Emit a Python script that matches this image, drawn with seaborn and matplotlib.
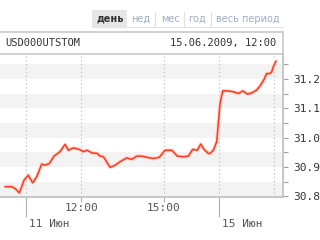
import matplotlib
matplotlib.use("Agg")
import matplotlib.pyplot as plt
import matplotlib.transforms as mtrans
import seaborn as sns
import pandas as pd
from matplotlib.patches import Rectangle
from matplotlib.lines import Line2D

# ---- data (trading-hours offset from 11 Jun 10:00; 15 Jun 10:00 = 7) ----
hours = [-0.762, -0.519, -0.399, -0.243, -0.156, -0.073, 0.083, 0.243, 0.388, 0.570,
         0.690, 0.846, 1.016, 1.234, 1.416, 1.535, 1.717, 1.935, 2.080, 2.225,
         2.385, 2.588, 2.686, 2.806, 2.868, 3.049, 3.230, 3.412, 3.655, 3.837,
         4.018, 4.200, 4.381, 4.621, 4.838, 5.045, 5.289, 5.492, 5.710, 5.891,
         6.051, 6.218, 6.341, 6.461, 6.617, 6.679, 6.799, 6.922, 6.980, 7.042,
         7.140, 7.285, 7.525, 7.706, 7.866, 8.033, 8.192, 8.374, 8.519, 8.639,
         8.736, 8.856, 8.918, 8.976, 9.074]
rate = [30.833, 30.833, 30.827, 30.812, 30.833, 30.855, 30.872, 30.846, 30.867, 30.910,
        30.906, 30.912, 30.937, 30.952, 30.977, 30.957, 30.965, 30.960, 30.952, 30.957,
        30.948, 30.946, 30.937, 30.935, 30.926, 30.899, 30.906, 30.918, 30.931, 30.926,
        30.937, 30.937, 30.933, 30.929, 30.933, 30.957, 30.957, 30.937, 30.935, 30.937,
        30.960, 30.957, 30.978, 30.960, 30.946, 30.946, 30.957, 30.986, 31.048, 31.116,
        31.159, 31.159, 31.156, 31.150, 31.159, 31.148, 31.152, 31.162, 31.179, 31.198,
        31.218, 31.218, 31.224, 31.241, 31.260]

y_ticks = [30.8, 30.9, 31.0, 31.1, 31.2]
y_labels = ["30.8", "30.9", "31.0", "31.1", "31.2"]
time_ticks = [2, 5]
time_labels = ["12:00", "15:00"]
day_ticks = [0, 7]
day_labels = ["11 Июн", "15 Июн"]
grid_x = [0, 2, 5, 7, 9]
tabs = ["день", "нед", "мес", "год", "весь период"]
ticker_name = "USD000UTSTOM"
stamp = "15.06.2009, 12:00"

df = pd.DataFrame({"t": hours, "v": rate})

sns.set_style("white")
plt.rcParams["font.family"] = ["DejaVu Sans"]
mono = "DejaVu Sans Mono"

W, H = 320, 240
fig = plt.figure(figsize=(3.2, 2.4), dpi=100)
fig.patch.set_facecolor("white")

def fx(px):
    return px / W

def fy(py):
    return 1 - py / H

border = "#c8c8c8"

# main axes
ax = fig.add_axes([0, fy(197), fx(283), fy(55) - fy(197)])
ax.set_facecolor("white")
for v in y_ticks:
    ax.axhspan(v, v + 0.05, color="#f3f3f3", lw=0, zorder=0)
for g in grid_x:
    ax.axvline(g, color="#b8b8b8", lw=0.8, ls=(0, (1, 2.5)), zorder=1)

sns.lineplot(data=df, x="t", y="v", ax=ax, color="#ffd2cb", lw=2.6, zorder=2, legend=False)
sns.lineplot(data=df, x="t", y="v", ax=ax, color="#ff3a1c", lw=1.1, zorder=3, legend=False)

ax.set_xlim(-0.944, 9.328)
ax.set_ylim(30.798, 31.281)
ax.set_xlabel("")
ax.set_ylabel("")

ax.yaxis.tick_right()
ax.set_yticks(y_ticks)
ax.set_yticklabels(y_labels, fontfamily=mono, fontsize=8, color="#333333")
ax.set_yticks([v + 0.05 for v in y_ticks[:-1]] + [31.25], minor=True)
ax.tick_params(axis="y", which="both", right=True, left=False, length=3.5, width=0.8,
               color="#a0a0a0", pad=4)

ax.set_xticks(day_ticks)
ax.set_xticklabels(day_labels, fontfamily=mono, fontsize=8, color="#555555", ha="left")
ax.set_xticks(time_ticks, minor=True)
ax.set_xticklabels(time_labels, minor=True, fontfamily=mono, fontsize=8, color="#555555")
ax.tick_params(axis="x", which="major", bottom=True, length=14.5, width=0.8, color="#b0b0b0", pad=1.5)
ax.tick_params(axis="x", which="minor", bottom=True, length=3.5, width=0.8, color="#b0b0b0", pad=1)
offs = mtrans.ScaledTranslation(2 / 72, 0, fig.dpi_scale_trans)
for lbl in ax.get_xticklabels():
    lbl.set_transform(lbl.get_transform() + offs)

for s in ["left", "top"]:
    ax.spines[s].set_visible(False)
for s in ["right", "bottom"]:
    ax.spines[s].set_color(border)
    ax.spines[s].set_linewidth(1.5)

# header box
hx = fig.add_axes([0, fy(54), fx(283), fy(32) - fy(54)])
hx.set_xticks([])
hx.set_yticks([])
hx.set_facecolor("white")
hx.spines["left"].set_visible(False)
for s in ["top", "right", "bottom"]:
    hx.spines[s].set_color(border)
    hx.spines[s].set_linewidth(1.2)
hx.text(fx(5) / fx(283), 0.5, ticker_name, transform=hx.transAxes, fontfamily=mono,
        fontsize=7.5, color="#333333", va="center", ha="left")
hx.text(fx(276) / fx(283), 0.5, stamp, transform=hx.transAxes, fontfamily=mono,
        fontsize=7.5, color="#333333", va="center", ha="right")

# tabs
fig.patches.append(Rectangle((fx(92), fy(27)), fx(35), fy(10) - fy(27),
                             transform=fig.transFigure, color="#e6e6e6", lw=0))
fig.lines.append(Line2D([fx(92), fx(283)], [fy(27), fy(27)], transform=fig.transFigure,
                        color="#e4e4e4", lw=0.8))
tab_x = [110, 141, 170, 197, 248]
for i, (t, x) in enumerate(zip(tabs, tab_x)):
    fig.text(fx(x), fy(18.5), t, ha="center", va="center", fontsize=7,
             fontweight="bold" if i == 0 else "normal",
             color="#333333" if i == 0 else "#a0acc4")
for sx in [155, 184, 211]:
    fig.lines.append(Line2D([fx(sx), fx(sx)], [fy(12), fy(26)], transform=fig.transFigure,
                            color="#e0e0e0", lw=0.8))

fig.savefig("out.png", dpi=100)
